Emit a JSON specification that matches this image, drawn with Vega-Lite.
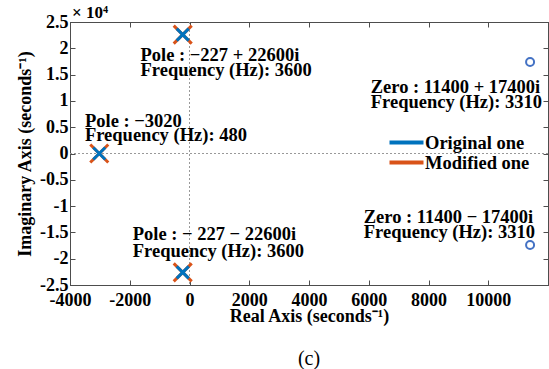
{
  "$schema": "https://vega.github.io/schema/vega-lite/v6.json",
  "width": 478,
  "height": 263,
  "autosize": {"type": "none"},
  "padding": {"left": 70, "top": 22, "right": 1, "bottom": 84},
  "background": "white",
  "config": {
    "view": {"stroke": "#4d4d4d", "strokeWidth": 1},
    "font": "Liberation Serif",
    "axis": {
      "labelFont": "Liberation Serif",
      "labelFontSize": 18,
      "labelFontWeight": "bold",
      "labelColor": "black",
      "titleFont": "Liberation Serif",
      "titleFontSize": 18,
      "titleFontWeight": "bold",
      "titleColor": "black",
      "domainColor": "#4d4d4d",
      "tickColor": "#4d4d4d",
      "grid": false
    }
  },
  "title": {
    "text": "(c)",
    "orient": "bottom",
    "anchor": "middle",
    "font": "Liberation Serif",
    "fontSize": 20,
    "fontWeight": "normal",
    "color": "black",
    "offset": 24
  },
  "datasets": {
    "zeroline": [{"v": 0}],
    "poles": [
      {"re": -227, "im": 22600, "series": "Original one"},
      {"re": -227, "im": -22600, "series": "Original one"},
      {"re": -3020, "im": 0, "series": "Original one"},
      {"re": -227, "im": 22600, "series": "Modified one"},
      {"re": -227, "im": -22600, "series": "Modified one"},
      {"re": -3020, "im": 0, "series": "Modified one"}
    ],
    "zeros": [
      {"re": 11400, "im": 17400},
      {"re": 11400, "im": -17400}
    ],
    "notes": [
      {"x": -1640, "y": 18820, "label": "Pole : −227 + 22600i"},
      {"x": -1640, "y": 15780, "label": "Frequency (Hz): 3600"},
      {"x": -3500, "y": 6270, "label": "Pole : −3020"},
      {"x": -3500, "y": 3610, "label": "Frequency (Hz): 480"},
      {"x": -1900, "y": -15210, "label": "Pole : − 227 − 22600i"},
      {"x": -1900, "y": -18630, "label": "Frequency (Hz): 3600"},
      {"x": 6067, "y": 12550, "label": "Zero : 11400 + 17400i"},
      {"x": 6067, "y": 9700, "label": "Frequency (Hz): 3310"},
      {"x": 5833, "y": -11980, "label": "Zero : 11400 − 17400i"},
      {"x": 5833, "y": -14830, "label": "Frequency (Hz): 3310"}
    ],
    "exponent": [{"x": -4000, "y": 25000, "label": "× 10⁴"}]
  },
  "layer": [
    {
      "data": {"name": "zeroline"},
      "mark": {"type": "rule", "color": "#999999", "strokeDash": [2, 2], "strokeWidth": 1},
      "encoding": {
        "x": {
          "field": "v", "type": "quantitative",
          "scale": {"domain": [-4000, 12000], "nice": false},
          "axis": {
            "orient": "bottom",
            "title": "Real Axis (seconds⁻¹)",
            "values": [-4000, -2000, 0, 2000, 4000, 6000, 8000, 10000, 12000],
            "labelExpr": "datum.value == 12000 ? '' : '' + datum.value",
            "tickSize": -5,
            "labelPadding": 11,
            "titlePadding": -2,
            "labelFlush": false,
            "labelOverlap": false
          }
        }
      }
    },
    {
      "data": {"name": "zeroline"},
      "mark": {"type": "rule", "color": "#999999", "strokeDash": [2, 2], "strokeWidth": 1},
      "encoding": {
        "y": {
          "field": "v", "type": "quantitative",
          "scale": {"domain": [-25000, 25000], "nice": false},
          "axis": {
            "orient": "left",
            "title": "Imaginary Axis (seconds⁻¹)",
            "values": [-25000, -20000, -15000, -10000, -5000, 0, 5000, 10000, 15000, 20000, 25000],
            "labelExpr": "'' + datum.value / 10000",
            "tickSize": -5,
            "labelPadding": 7,
            "titlePadding": 5,
            "labelFlush": false,
            "labelOverlap": false
          }
        }
      }
    },
    {
      "data": {"name": "poles"},
      "transform": [{"filter": "datum.series == 'Modified one'"}],
      "mark": {"type": "point", "shape": "M-1,-1L1,1M-1,1L1,-1", "filled": false, "strokeWidth": 3, "size": 324, "opacity": 1},
      "encoding": {
        "x": {
          "field": "re", "type": "quantitative",
          "scale": {"domain": [-4000, 12000], "nice": false},
          "axis": {"orient": "top", "labels": false, "title": null, "tickSize": -5,
                   "values": [-4000, -2000, 0, 2000, 4000, 6000, 8000, 10000, 12000]}
        },
        "y": {
          "field": "im", "type": "quantitative",
          "scale": {"domain": [-25000, 25000], "nice": false},
          "axis": {"orient": "right", "labels": false, "title": null, "tickSize": -5,
                   "values": [-25000, -20000, -15000, -10000, -5000, 0, 5000, 10000, 15000, 20000, 25000]}
        },
        "color": {
          "field": "series", "type": "nominal",
          "scale": {"domain": ["Original one", "Modified one"], "range": ["#0072BD", "#D95319"]},
          "legend": {
            "orient": "none",
            "legendX": 326,
            "legendY": 110,
            "title": null,
            "symbolType": "M-2,0L2,0",
            "symbolSize": 289,
            "symbolStrokeWidth": 4,
            "labelFont": "Liberation Serif",
            "labelFontSize": 18.5,
            "labelFontWeight": "bold",
            "labelColor": "black",
            "labelOffset": 8,
            "rowPadding": 0
          }
        }
      }
    },
    {
      "data": {"name": "poles"},
      "transform": [{"filter": "datum.series == 'Original one'"}],
      "mark": {"type": "point", "shape": "M-1,-1L1,1M-1,1L1,-1", "filled": false, "strokeWidth": 3, "size": 144, "opacity": 1},
      "encoding": {
        "x": {"field": "re", "type": "quantitative", "scale": {"domain": [-4000, 12000], "nice": false}, "axis": null},
        "y": {"field": "im", "type": "quantitative", "scale": {"domain": [-25000, 25000], "nice": false}, "axis": null},
        "color": {"field": "series", "type": "nominal"}
      }
    },
    {
      "data": {"name": "zeros"},
      "mark": {"type": "point", "shape": "circle", "filled": false, "strokeWidth": 2, "size": 64, "color": "#4472C4", "opacity": 1},
      "encoding": {
        "x": {"field": "re", "type": "quantitative", "scale": {"domain": [-4000, 12000], "nice": false}, "axis": null},
        "y": {"field": "im", "type": "quantitative", "scale": {"domain": [-25000, 25000], "nice": false}, "axis": null}
      }
    },
    {
      "data": {"name": "notes"},
      "mark": {"type": "text", "align": "left", "baseline": "middle", "font": "Liberation Serif", "fontSize": 18.5, "fontWeight": "bold", "color": "black"},
      "encoding": {
        "x": {"field": "x", "type": "quantitative", "scale": {"domain": [-4000, 12000], "nice": false}, "axis": null},
        "y": {"field": "y", "type": "quantitative", "scale": {"domain": [-25000, 25000], "nice": false}, "axis": null},
        "text": {"field": "label"}
      }
    },
    {
      "data": {"name": "exponent"},
      "mark": {"type": "text", "align": "left", "baseline": "bottom", "dx": 2, "dy": 0, "font": "Liberation Serif", "fontSize": 17, "fontWeight": "bold", "color": "black"},
      "encoding": {
        "x": {"field": "x", "type": "quantitative", "scale": {"domain": [-4000, 12000], "nice": false}, "axis": null},
        "y": {"field": "y", "type": "quantitative", "scale": {"domain": [-25000, 25000], "nice": false}, "axis": null},
        "text": {"field": "label"}
      }
    }
  ],
  "resolve": {"axis": {"x": "independent", "y": "independent"}}
}
